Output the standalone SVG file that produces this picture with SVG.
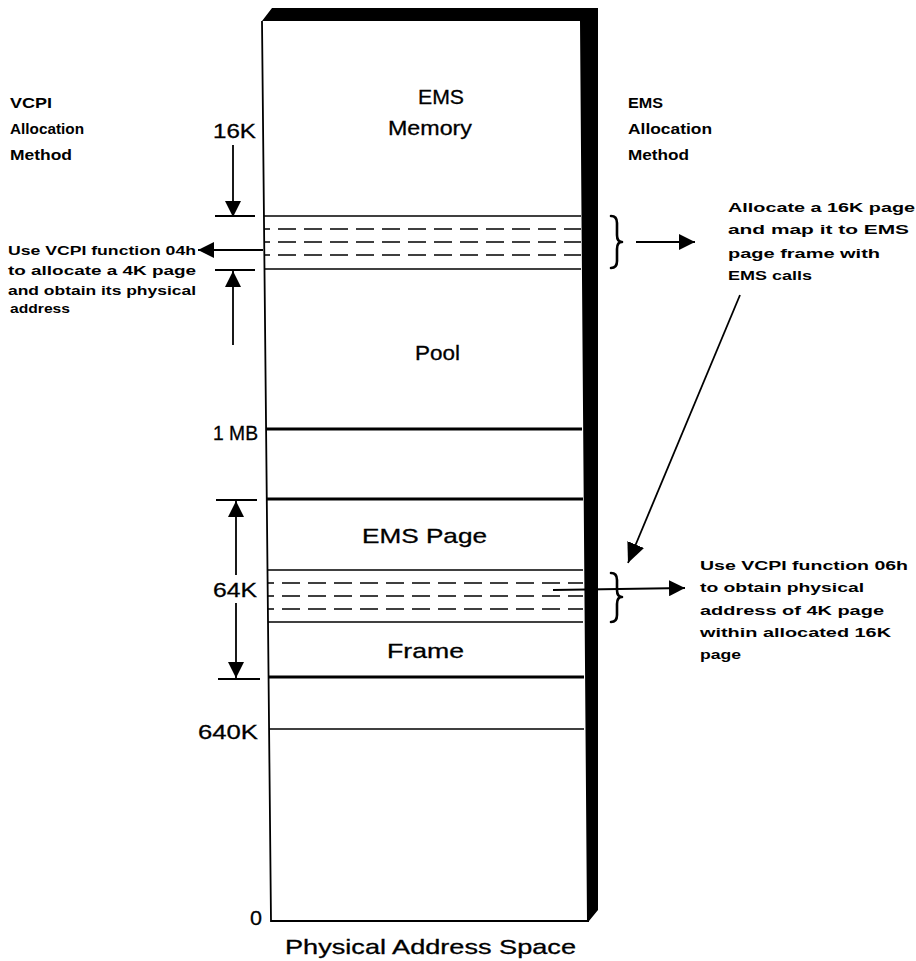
<svg xmlns="http://www.w3.org/2000/svg" width="916" height="961" viewBox="0 0 916 961">
<defs>
<style>
.big{font-family:"Liberation Sans",Arial,sans-serif;font-size:21px;fill:#000;stroke:#000;stroke-width:0.3}
.hd{font-family:"Liberation Sans",Arial,sans-serif;font-size:14px;font-weight:bold;fill:#000}
.sm{font-family:"Liberation Sans",Arial,sans-serif;font-size:13px;font-weight:bold;fill:#000}
.thin{stroke:#000;stroke-width:1.6;fill:none}
.thick{stroke:#000;stroke-width:3.2;fill:none}
.dash{stroke:#000;stroke-width:1.6;fill:none;stroke-dasharray:18 8}
.ln{stroke:#000;stroke-width:1.8;fill:none}
.br{stroke:#000;stroke-width:2.6;fill:none;stroke-linecap:round;stroke-linejoin:round}
</style>
<marker id="ah" viewBox="0 0 10 10" refX="10" refY="5" markerWidth="16" markerHeight="16" markerUnits="userSpaceOnUse" orient="auto">
<path d="M0,0 L10,5 L0,10 z" fill="#000"/>
</marker>
<marker id="ahl" viewBox="0 0 10 10" refX="10" refY="5" markerWidth="20" markerHeight="20" markerUnits="userSpaceOnUse" orient="auto">
<path d="M0,0.5 L10,5 L0,9.5 z" fill="#000"/>
</marker>
</defs>
<rect width="916" height="961" fill="#fff"/>

<g id="memory-box">
<path d="M262,21 L272,8 L598,8 L598,910 L589,921 L587,921 L580,21 Z" fill="#000"/>
<path class="ln" d="M262,21 L271,921 L589,921"/>
<line class="thin" x1="264" y1="216" x2="581" y2="216"/>
<line class="dash" x1="264" y1="229" x2="581" y2="229" stroke-dashoffset="12"/>
<line class="dash" x1="264" y1="242" x2="581" y2="242" stroke-dashoffset="12"/>
<line class="dash" x1="264" y1="255" x2="581" y2="255" stroke-dashoffset="12"/>
<line class="thin" x1="264" y1="269" x2="581" y2="269"/>
<line class="thick" x1="266" y1="429" x2="582" y2="429"/>
<line class="thick" x1="267" y1="499" x2="583" y2="499"/>
<line class="thin" x1="267" y1="570" x2="583" y2="570"/>
<line class="dash" x1="268" y1="583" x2="583" y2="583" stroke-dashoffset="12"/>
<line class="dash" x1="268" y1="596" x2="583" y2="596" stroke-dashoffset="12"/>
<line class="dash" x1="268" y1="609" x2="583" y2="609" stroke-dashoffset="12"/>
<line class="thin" x1="268" y1="622" x2="583" y2="622"/>
<line class="thick" x1="268" y1="677" x2="584" y2="677"/>
<line class="thin" x1="269" y1="729" x2="584" y2="729"/>
</g>

<g id="region-labels">
<text class="big" x="418" y="104" textLength="46" lengthAdjust="spacingAndGlyphs">EMS</text>
<text class="big" x="388" y="135" textLength="84" lengthAdjust="spacingAndGlyphs">Memory</text>
<text class="big" x="415" y="360" textLength="45" lengthAdjust="spacingAndGlyphs">Pool</text>
<text class="big" x="362" y="543" textLength="125" lengthAdjust="spacingAndGlyphs">EMS Page</text>
<text class="big" x="387" y="658" textLength="77" lengthAdjust="spacingAndGlyphs">Frame</text>
<text class="big" x="285" y="954" textLength="291" lengthAdjust="spacingAndGlyphs">Physical Address Space</text>
</g>

<g id="address-labels">
<text class="big" x="213" y="138" textLength="43" lengthAdjust="spacingAndGlyphs">16K</text>
<text class="big" x="213" y="440" textLength="45" lengthAdjust="spacingAndGlyphs">1 MB</text>
<text class="big" x="213" y="597" textLength="44" lengthAdjust="spacingAndGlyphs">64K</text>
<text class="big" x="198" y="739" textLength="60" lengthAdjust="spacingAndGlyphs">640K</text>
<text class="big" x="250" y="925" textLength="12" lengthAdjust="spacingAndGlyphs">0</text>
</g>

<g id="vcpi-method">
<text class="hd" x="10" y="108" textLength="42" lengthAdjust="spacingAndGlyphs">VCPI</text>
<text class="hd" x="10" y="134" textLength="74" lengthAdjust="spacingAndGlyphs">Allocation</text>
<text class="hd" x="10" y="160" textLength="62" lengthAdjust="spacingAndGlyphs">Method</text>
</g>

<g id="ems-method">
<text class="hd" x="628" y="108" textLength="35" lengthAdjust="spacingAndGlyphs">EMS</text>
<text class="hd" x="628" y="134" textLength="84" lengthAdjust="spacingAndGlyphs">Allocation</text>
<text class="hd" x="628" y="160" textLength="61" lengthAdjust="spacingAndGlyphs">Method</text>
</g>

<g id="vcpi-04h-note">
<text class="sm" x="8" y="255" textLength="188" lengthAdjust="spacingAndGlyphs">Use VCPI function 04h</text>
<text class="sm" x="8" y="275" textLength="188" lengthAdjust="spacingAndGlyphs">to allocate a 4K page</text>
<text class="sm" x="8" y="295" textLength="188" lengthAdjust="spacingAndGlyphs">and obtain its physical</text>
<text class="sm" x="10" y="313" textLength="60" lengthAdjust="spacingAndGlyphs">address</text>
</g>

<g id="ems-alloc-note">
<text class="sm" x="728" y="212" textLength="187" lengthAdjust="spacingAndGlyphs">Allocate a 16K page</text>
<text class="sm" x="728" y="234" textLength="181" lengthAdjust="spacingAndGlyphs">and map it to EMS</text>
<text class="sm" x="728" y="258" textLength="152" lengthAdjust="spacingAndGlyphs">page frame with</text>
<text class="sm" x="728" y="280" textLength="84" lengthAdjust="spacingAndGlyphs">EMS calls</text>
</g>

<g id="vcpi-06h-note">
<text class="sm" x="700" y="570" textLength="208" lengthAdjust="spacingAndGlyphs">Use VCPI function 06h</text>
<text class="sm" x="700" y="592" textLength="164" lengthAdjust="spacingAndGlyphs">to obtain physical</text>
<text class="sm" x="700" y="615" textLength="184" lengthAdjust="spacingAndGlyphs">address of 4K page</text>
<text class="sm" x="700" y="637" textLength="191" lengthAdjust="spacingAndGlyphs">within allocated 16K</text>
<text class="sm" x="700" y="659" textLength="41" lengthAdjust="spacingAndGlyphs">page</text>
</g>

<g id="brackets">
<path class="br" d="M611,216 Q617,216 617,223 L617,235 Q617,242 622,242 Q617,242 617,249 L617,261 Q617,268 611,268"/>
<path class="br" d="M611,573 Q617,573 617,580 L617,590 Q617,597 622,597 Q617,597 617,604 L617,615 Q617,622 611,622"/>
</g>

<g id="connectors">
<line class="ln" x1="215" y1="216" x2="255" y2="216"/>
<line class="ln" x1="233" y1="145" x2="233" y2="217" marker-end="url(#ah)"/>
<line class="ln" x1="215" y1="270" x2="255" y2="270"/>
<line class="ln" x1="233" y1="345" x2="233" y2="271" marker-end="url(#ah)"/>
<line class="ln" x1="263" y1="250" x2="198" y2="250" marker-end="url(#ah)"/>
<line class="ln" x1="216" y1="500" x2="257" y2="500"/>
<line class="ln" x1="218" y1="679" x2="260" y2="679"/>
<line class="ln" x1="236" y1="575" x2="236" y2="501" marker-end="url(#ah)"/>
<line class="ln" x1="236" y1="603" x2="236" y2="678" marker-end="url(#ah)"/>
<line class="ln" x1="636" y1="242" x2="695" y2="242" marker-end="url(#ah)"/>
<line class="ln" x1="740" y1="295" x2="628" y2="563" marker-end="url(#ahl)"/>
<line class="ln" x1="553" y1="590" x2="685" y2="588" marker-end="url(#ah)"/>
</g>
</svg>
